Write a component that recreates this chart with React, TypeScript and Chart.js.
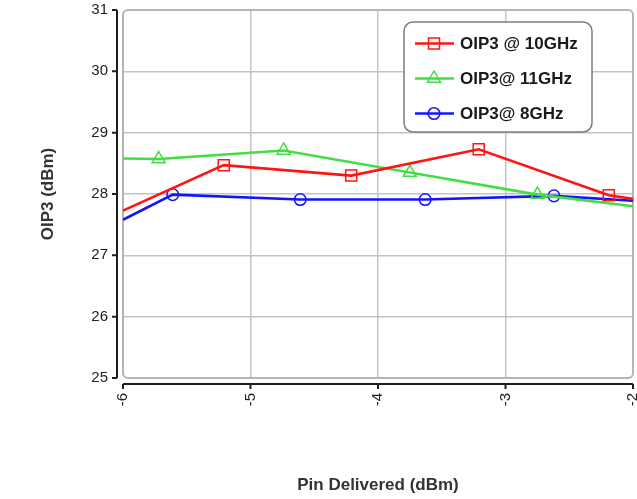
import React, { useEffect, useRef } from 'react';
import { Chart, registerables } from 'chart.js';

Chart.register(...registerables);

const seriesLabels = ['OIP3 @ 10GHz', 'OIP3@ 11GHz', 'OIP3@ 8GHz'];
const seriesColors = ['#ff1414', '#44dd44', '#1414ff'];
const seriesMarkers = ['rect', 'triangle', 'circle'];

const red10X = [-6, -5.21, -4.21, -3.21, -2.19, -2];
const red10Y = [27.73, 28.47, 28.3, 28.73, 27.98, 27.92];
const green11X = [-6, -5.72, -4.74, -3.75, -2.75, -2];
const green11Y = [28.58, 28.57, 28.71, 28.35, 27.99, 27.8];
const blue8X = [-6, -5.61, -4.61, -3.63, -2.62, -2];
const blue8Y = [27.58, 27.99, 27.91, 27.91, 27.97, 27.89];

const xTicks = [-6, -5, -4, -3, -2];
const yTicks = [25, 26, 27, 28, 29, 30, 31];

const xTitle = 'Pin Delivered (dBm)';
const yTitle = 'OIP3 (dBm)';

const FONT = "'Liberation Sans', Arial, sans-serif";

function toPoints(xs: number[], ys: number[]) {
  return xs.map((x, i) => ({ x, y: ys[i] }));
}

const markerRadius: Record<string, number> = { rect: 7.8, triangle: 7.5, circle: 5.8 };

function drawMarker(ctx: CanvasRenderingContext2D, style: string, x: number, y: number) {
  ctx.beginPath();
  if (style === 'rect') {
    const s = 5.5;
    ctx.rect(x - s, y - s, 2 * s, 2 * s);
  } else if (style === 'triangle') {
    const r = 7.5;
    ctx.moveTo(x, y - r);
    ctx.lineTo(x + r * 0.866, y + r / 2);
    ctx.lineTo(x - r * 0.866, y + r / 2);
    ctx.closePath();
  } else {
    ctx.arc(x, y, 5.8, 0, Math.PI * 2);
  }
  ctx.stroke();
}

const framePlugin = {
  id: 'frameAxes',
  beforeDatasetsDraw(chart: any) {
    const { ctx, chartArea: a } = chart;
    ctx.save();
    ctx.beginPath();
    (ctx as any).roundRect(a.left, a.top, a.right - a.left, a.bottom - a.top, 5);
    ctx.strokeStyle = '#b4b4b4';
    ctx.lineWidth = 2;
    ctx.stroke();
    ctx.restore();
  },
  afterDraw(chart: any) {
    const { ctx, chartArea: a } = chart;
    const xs = chart.scales.x;
    const ys = chart.scales.y;
    ctx.save();
    ctx.strokeStyle = '#1e1e1e';
    ctx.lineWidth = 2;
    // y axis
    const ax = a.left - 6;
    ctx.beginPath();
    ctx.moveTo(ax, ys.getPixelForValue(yTicks[0]));
    ctx.lineTo(ax, ys.getPixelForValue(yTicks[yTicks.length - 1]));
    yTicks.forEach((v) => {
      const py = ys.getPixelForValue(v);
      ctx.moveTo(ax - 5, py);
      ctx.lineTo(ax, py);
    });
    ctx.stroke();
    // x axis
    const ay = a.bottom + 6;
    ctx.beginPath();
    ctx.moveTo(xs.getPixelForValue(xTicks[0]), ay);
    ctx.lineTo(xs.getPixelForValue(xTicks[xTicks.length - 1]), ay);
    xTicks.forEach((v) => {
      const px = xs.getPixelForValue(v);
      ctx.moveTo(px, ay);
      ctx.lineTo(px, ay + 5);
    });
    ctx.stroke();

    // legend
    const x0 = 404, y0 = 22, w = 188, h = 110;
    ctx.beginPath();
    (ctx as any).roundRect(x0, y0, w, h, 9);
    ctx.fillStyle = '#ffffff';
    ctx.fill();
    ctx.strokeStyle = '#7c7c7c';
    ctx.lineWidth = 1.5;
    ctx.stroke();
    chart.data.datasets.forEach((ds: any, i: number) => {
      const cy = 43.5 + i * 35;
      ctx.strokeStyle = ds.borderColor;
      ctx.lineWidth = 2.5;
      ctx.beginPath();
      ctx.moveTo(415, cy);
      ctx.lineTo(454, cy);
      ctx.stroke();
      ctx.lineWidth = 1.5;
      drawMarker(ctx, seriesMarkers[i], 434, cy);
      ctx.fillStyle = '#1a1a1a';
      ctx.font = `bold 17px ${FONT}`;
      ctx.textAlign = 'left';
      ctx.textBaseline = 'middle';
      ctx.fillText(ds.label, 460, cy + 1);
    });
    ctx.restore();
  },
};

export default function App() {
  const canvasRef = useRef<HTMLCanvasElement | null>(null);

  useEffect(() => {
    if (!canvasRef.current) return;
    const series = [toPoints(red10X, red10Y), toPoints(green11X, green11Y), toPoints(blue8X, blue8Y)];
    const gridColor = (ctx: any) => {
      const n = ctx.scale.ticks.length;
      return ctx.index === 0 || ctx.index === n - 1 ? 'rgba(0,0,0,0)' : '#c4c4c4';
    };
    const chart = new Chart(canvasRef.current, {
      type: 'line',
      data: {
        datasets: series.map((data, i) => ({
          label: seriesLabels[i],
          data,
          borderColor: seriesColors[i],
          backgroundColor: 'rgba(0,0,0,0)',
          borderWidth: 2.6,
          pointStyle: seriesMarkers[i] as any,
          pointRadius: (c: any) =>
            c.dataIndex === 0 || c.dataIndex === data.length - 1 ? 0 : markerRadius[seriesMarkers[i]],
          pointBorderColor: seriesColors[i],
          pointBackgroundColor: 'rgba(0,0,0,0)',
          pointBorderWidth: 1.5,
          tension: 0,
          fill: false,
        })),
      },
      options: {
        animation: false,
        responsive: false,
        maintainAspectRatio: false,
        layout: { padding: { top: 10, right: 4, left: 0, bottom: 0 } },
        plugins: {
          legend: { display: false },
          tooltip: { enabled: false },
        },
        scales: {
          x: {
            type: 'linear',
            min: xTicks[0],
            max: xTicks[xTicks.length - 1],
            afterBuildTicks: (s: any) => {
              s.ticks = xTicks.map((v) => ({ value: v }));
            },
            afterFit: (s: any) => {
              s.height = 121;
              s.paddingLeft = 0;
              s.paddingRight = 0;
            },
            border: { display: false },
            grid: { color: gridColor, lineWidth: 1.5, drawTicks: false },
            ticks: {
              minRotation: 90,
              maxRotation: 90,
              padding: 15,
              color: '#222222',
              font: { family: FONT, size: 15 },
              callback: (v: any) => String(v),
            },
            title: {
              display: true,
              text: xTitle,
              color: '#333333',
              font: { family: FONT, size: 17, weight: 'bold' },
              padding: { top: 0, bottom: 3.5 },
            },
          },
          y: {
            type: 'linear',
            min: yTicks[0],
            max: yTicks[yTicks.length - 1],
            afterBuildTicks: (s: any) => {
              s.ticks = yTicks.map((v) => ({ value: v }));
            },
            afterFit: (s: any) => {
              s.width = 123;
              s.paddingTop = 0;
              s.paddingBottom = 0;
            },
            border: { display: false },
            grid: { color: gridColor, lineWidth: 1.5, drawTicks: false },
            ticks: {
              padding: 15,
              color: '#222222',
              font: { family: FONT, size: 15 },
              callback: (v: any) => String(v),
            },
            title: {
              display: true,
              text: yTitle,
              color: '#333333',
              font: { family: FONT, size: 17, weight: 'bold' },
              padding: { top: 38.5, bottom: 0 },
            },
          },
        },
      },
      plugins: [framePlugin],
    });
    return () => chart.destroy();
  }, []);

  return (
    <div style={{ position: 'absolute', left: 0, top: 0, width: 637, height: 499, background: '#fff' }}>
      <canvas ref={canvasRef} width={637} height={499} style={{ display: 'block', width: 637, height: 499 }} />
    </div>
  );
}
